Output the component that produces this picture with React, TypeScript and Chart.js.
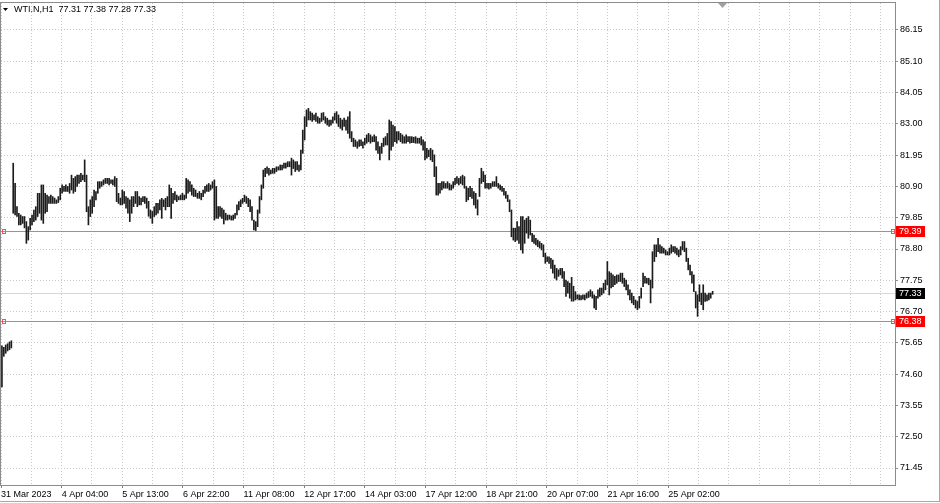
import React, { useEffect, useRef } from "react";
import { Chart, registerables } from "chart.js";

Chart.register(...registerables);

// ---- data ----
const symbolTitle = "WTI.N,H1";
const lastOHLC = [77.31, 77.38, 77.28, 77.33];
const currentPrice = 77.33;
const levelLines = [79.39, 76.38];
const priceTicks = [71.45, 72.5, 73.55, 74.6, 75.65, 76.7, 77.75, 78.8, 79.85, 80.9, 81.95, 83.0, 84.05, 85.1, 86.15];
const timeLabels = [
  "31 Mar 2023", "4 Apr 04:00", "5 Apr 13:00", "6 Apr 22:00", "11 Apr 08:00", "12 Apr 17:00",
  "14 Apr 03:00", "17 Apr 12:00", "18 Apr 21:00", "20 Apr 07:00", "21 Apr 16:00", "25 Apr 02:00",
];

// hourly bar highs
const highs = [
  75.55, 75.50, 75.58, 75.62, 75.68, 75.72,
  81.68, 81.00, 80.22, 80.00, 79.94, 79.89, 79.89, 79.72, 79.55, 79.83,
  79.94, 80.11, 80.22, 80.67, 80.67, 80.95, 80.95, 80.67, 80.61, 80.56,
  80.61, 80.56, 80.51, 80.45, 80.56, 80.84, 80.95, 80.90, 80.95, 80.90,
  81.00, 81.28, 81.17, 81.23, 81.28, 81.28, 81.34, 81.28, 81.79, 81.28,
  80.22, 80.45, 80.56, 80.78, 80.73, 81.06, 81.06, 81.06, 81.12, 81.17,
  81.17, 81.17, 81.12, 81.12, 81.23, 81.17, 80.67, 80.51, 80.78, 80.73,
  80.56, 80.51, 80.45, 80.56, 80.56, 80.73, 80.73, 80.56, 80.51, 80.56,
  80.56, 80.51, 80.40, 80.11, 80.06, 80.22, 80.33, 80.33, 80.45, 80.50,
  80.45, 80.50, 80.56, 80.95, 80.84, 80.67, 80.73, 80.61, 80.56, 80.61,
  80.67, 80.61, 81.17, 81.12, 81.06, 80.95, 80.84, 80.78, 80.67, 80.73,
  80.67, 80.78, 80.90, 80.95, 81.00, 80.95, 81.06, 81.12, 80.90, 80.22,
  80.22, 80.17, 80.11, 80.00, 79.94, 79.94, 79.91, 79.94, 80.00, 80.28,
  80.39, 80.45, 80.50, 80.61, 80.56, 80.50, 80.45, 80.22, 79.77, 79.72,
  80.11, 80.56, 80.95, 81.45, 81.51, 81.56, 81.51, 81.45, 81.51, 81.51,
  81.56, 81.56, 81.62, 81.62, 81.68, 81.68, 81.73, 81.73, 81.85, 81.79,
  81.73, 81.73, 81.62, 82.12, 82.79, 83.24, 83.47, 83.52, 83.41, 83.36,
  83.30, 83.36, 83.24, 83.19, 83.36, 83.38, 83.24, 83.19, 83.13, 83.13,
  83.24, 83.36, 83.41, 83.30, 83.19, 83.13, 83.19, 83.13, 83.24, 83.41,
  82.74, 82.52, 82.46, 82.40, 82.46, 82.46, 82.40, 82.52, 82.63, 82.68,
  82.63, 82.57, 82.63, 82.57, 82.40, 82.24, 82.35, 82.52, 82.57, 82.68,
  83.13, 83.08, 82.96, 82.91, 82.74, 82.74, 82.68, 82.63, 82.57, 82.63,
  82.57, 82.57, 82.57, 82.55, 82.57, 82.52, 82.52, 82.57, 82.46, 82.40,
  82.18, 82.12, 82.18, 82.12, 81.96, 81.56, 81.00, 81.00, 81.06, 81.06,
  81.00, 81.06, 81.00, 80.95, 81.06, 81.17, 81.23, 81.17, 81.23, 81.28,
  81.23, 80.90, 80.84, 80.90, 80.84, 80.73, 80.67, 80.45, 81.17, 81.51,
  81.40, 81.28, 81.00, 81.00, 81.00, 81.06, 81.06, 81.23, 81.00, 80.95,
  80.90, 80.84, 80.73, 80.61, 80.45, 80.11, 79.50, 79.50, 79.72, 79.55,
  79.89, 79.89, 79.77, 79.83, 79.89, 79.77, 79.33, 79.27, 79.16, 79.10,
  79.05, 78.99, 78.94, 78.66, 78.54, 78.54, 78.49, 78.43, 78.26, 78.15,
  78.10, 78.15, 78.15, 78.04, 77.76, 77.71, 77.65, 77.85, 77.55, 77.37,
  77.26, 77.26, 77.24, 77.26, 77.26, 77.32, 77.37, 77.43, 77.37, 77.26,
  77.21, 77.43, 77.49, 77.49, 77.65, 77.76, 78.38, 78.04, 77.99, 77.93,
  77.88, 77.93, 77.93, 77.99, 77.99, 77.82, 77.76, 77.60, 77.43, 77.32,
  77.21, 77.09, 77.04, 77.21, 77.49, 77.99, 77.88, 77.82, 77.82, 77.76,
  78.71, 78.94, 78.94, 79.16, 78.94, 78.88, 78.83, 78.77, 78.71, 78.83,
  78.94, 78.88, 78.88, 78.83, 78.77, 78.88, 79.05, 79.05, 78.83, 78.49,
  78.26, 78.04, 77.93, 77.37, 77.26, 77.60, 77.32, 77.60, 77.32, 77.26,
  77.32, 77.32, 77.38,
];

// hourly bar lows
const lows = [
  74.17, 75.20, 75.30, 75.38, 75.42, 75.48,
  80.00, 79.94, 79.89, 79.61, 79.61, 79.66, 79.51, 78.99, 79.10, 79.44,
  79.61, 79.72, 79.77, 79.89, 80.00, 79.77, 79.66, 80.00, 80.05, 80.33,
  80.33, 80.33, 80.33, 80.33, 80.36, 80.45, 80.67, 80.73, 80.73, 80.73,
  80.67, 80.78, 80.67, 80.73, 80.90, 81.00, 81.06, 81.12, 81.06, 80.05,
  79.61, 79.89, 80.00, 80.22, 80.45, 80.67, 80.84, 80.90, 80.95, 81.00,
  81.00, 80.95, 81.00, 80.95, 80.90, 80.39, 80.33, 80.28, 80.28, 80.33,
  80.17, 80.00, 79.72, 80.00, 80.22, 80.33, 80.22, 80.28, 80.28, 80.39,
  80.33, 80.17, 79.90, 79.83, 79.66, 79.89, 79.94, 80.00, 80.11, 79.83,
  80.22, 80.11, 80.22, 80.22, 79.83, 80.33, 80.45, 80.39, 80.45, 80.45,
  80.45, 80.45, 80.50, 80.67, 80.73, 80.61, 80.56, 80.56, 80.50, 80.50,
  80.45, 80.56, 80.67, 80.73, 80.73, 80.78, 80.84, 79.77, 79.83, 79.83,
  79.89, 79.83, 79.64, 79.77, 79.77, 79.80, 79.77, 79.77, 79.83, 79.94,
  80.11, 80.22, 80.33, 80.39, 80.33, 80.22, 80.05, 79.77, 79.44, 79.42,
  79.55, 80.00, 80.45, 80.84, 81.23, 81.34, 81.28, 81.32, 81.34, 81.34,
  81.40, 81.45, 81.45, 81.45, 81.51, 81.51, 81.56, 81.56, 81.28, 81.50,
  81.40, 81.45, 81.40, 81.45, 82.01, 82.46, 82.91, 83.13, 83.13, 83.08,
  83.13, 83.08, 83.02, 83.02, 83.08, 83.13, 83.02, 82.96, 82.91, 82.96,
  83.02, 83.13, 83.02, 82.91, 82.85, 82.79, 82.91, 82.79, 82.68, 82.52,
  82.40, 82.24, 82.24, 82.18, 82.24, 82.27, 82.18, 82.29, 82.35, 82.40,
  82.35, 82.40, 82.40, 82.12, 82.01, 81.79, 82.01, 82.24, 82.29, 82.29,
  81.79, 82.12, 82.24, 82.40, 82.35, 82.46, 82.40, 82.35, 82.35, 82.35,
  82.40, 82.35, 82.37, 82.37, 82.35, 82.35, 82.35, 82.29, 82.12, 81.79,
  81.85, 81.90, 81.79, 81.73, 81.23, 80.61, 80.61, 80.67, 80.78, 80.84,
  80.84, 80.84, 80.78, 80.78, 80.84, 80.95, 81.00, 80.95, 81.00, 80.95,
  80.84, 80.39, 80.45, 80.56, 80.50, 80.28, 80.17, 79.94, 80.56, 81.00,
  81.06, 80.84, 80.84, 80.81, 80.84, 80.90, 80.90, 80.90, 80.84, 80.78,
  80.73, 80.61, 80.50, 80.39, 80.05, 79.21, 79.10, 79.05, 79.10, 78.99,
  78.77, 78.66, 78.99, 79.33, 79.16, 79.27, 79.05, 78.99, 78.94, 78.88,
  78.83, 78.77, 78.54, 78.32, 78.38, 78.32, 78.15, 77.99, 77.82, 77.76,
  77.88, 77.93, 77.82, 77.54, 77.21, 77.32, 77.15, 77.05, 77.05, 77.09,
  77.12, 77.09, 77.09, 77.12, 77.09, 77.15, 77.17, 77.21, 77.15, 76.82,
  76.76, 77.15, 77.21, 77.26, 77.32, 77.43, 77.60, 77.26, 77.49, 77.54,
  77.60, 77.65, 77.71, 77.71, 77.65, 77.54, 77.43, 77.26, 77.09, 76.99,
  76.93, 76.82, 76.76, 76.82, 77.15, 77.54, 77.65, 77.65, 77.60, 76.99,
  77.49, 78.38, 78.54, 78.71, 78.66, 78.66, 78.66, 78.60, 78.60, 78.60,
  78.66, 78.71, 78.66, 78.60, 78.54, 78.60, 78.77, 78.71, 78.38, 78.10,
  77.93, 77.65, 77.37, 76.82, 76.54, 77.04, 76.93, 76.76, 77.04, 77.06,
  77.09, 77.15, 77.28,
];

// ---- layout constants ----
const FONT = "'Liberation Sans', Arial, sans-serif";
const X_MIN = -0.5;
const X_MAX = 475;
const Y_MIN = 70.88;
const Y_MAX = 87.056;
const BARS_PER_GRID = 16.13;
const GRID_COUNT = 30;

export default function App() {
  const ref = useRef<HTMLCanvasElement>(null);

  useEffect(() => {
    document.body.style.margin = "0";
    const canvas = ref.current;
    if (!canvas) return;
    const n = Math.min(highs.length, lows.length);
    const bars: { x: number; y: [number, number] }[] = [];
    for (let i = 0; i < n; i++) bars.push({ x: i, y: [lows[i], highs[i]] });

    const deco = {
      id: "deco",
      beforeDraw(chart: any) {
        const ctx = chart.ctx;
        ctx.save();
        ctx.fillStyle = "#ffffff";
        ctx.fillRect(0, 0, chart.width, chart.height);
        ctx.restore();
      },
      beforeDatasetsDraw(chart: any) {
        const { ctx, chartArea: a, scales } = chart;
        const y = scales.y;
        ctx.save();
        const w = a.right - a.left;
        // current price line
        const yc = Math.round(y.getPixelForValue(currentPrice));
        ctx.fillStyle = "#d8d8d8";
        ctx.fillRect(a.left, yc, w, 1);
        // horizontal level lines with end markers
        for (const v of levelLines) {
          const yy = Math.round(y.getPixelForValue(v));
          ctx.fillStyle = "#f26d6d";
          ctx.fillRect(a.left, yy, w, 1);
          ctx.fillStyle = "#ee5555";
          ctx.fillRect(a.left + 1, yy - 2, 4, 1);
          ctx.fillRect(a.left + 1, yy + 2, 4, 1);
          ctx.fillRect(a.left + 1, yy - 2, 1, 5);
          ctx.fillRect(a.left + 4, yy - 2, 1, 5);
          ctx.fillRect(a.right - 4, yy - 2, 4, 1);
          ctx.fillRect(a.right - 4, yy + 2, 4, 1);
          ctx.fillRect(a.right - 4, yy - 2, 1, 5);
          ctx.fillRect(a.right - 1, yy - 2, 1, 5);
        }
        ctx.restore();
      },
      afterDraw(chart: any) {
        const { ctx, chartArea: a, scales } = chart;
        const y = scales.y;
        ctx.save();
        // plot frame
        ctx.fillStyle = "#8c8c8c";
        ctx.fillRect(a.left - 1, a.top - 1, a.right - a.left + 2, 1);
        ctx.fillRect(a.left - 1, a.bottom, a.right - a.left + 2, 1);
        ctx.fillRect(a.left - 1, a.top - 1, 1, a.bottom - a.top + 2);
        ctx.fillRect(a.right, a.top - 1, 1, a.bottom - a.top + 2);
        // outer window lines
        ctx.fillStyle = "#a8a8a8";
        ctx.fillRect(939, 0, 1, 502);
        ctx.fillRect(0, 501, 940, 1);
        // chart shift marker
        ctx.fillStyle = "#a0a0a0";
        ctx.beginPath();
        ctx.moveTo(718, a.top);
        ctx.lineTo(727, a.top);
        ctx.lineTo(722.5, a.top + 5);
        ctx.closePath();
        ctx.fill();
        // price boxes on the axis
        ctx.font = `9px ${FONT}`;
        ctx.textBaseline = "middle";
        ctx.textAlign = "left";
        const box = (v: number, bg: string) => {
          const yy = Math.round(y.getPixelForValue(v));
          ctx.fillStyle = bg;
          ctx.fillRect(896, yy - 5, 29, 11);
          ctx.fillStyle = "#ffffff";
          ctx.fillText(v.toFixed(2), 899, yy + 1);
        };
        for (const v of levelLines) box(v, "#ff0000");
        box(currentPrice, "#000000");
        // title
        ctx.fillStyle = "#000000";
        ctx.beginPath();
        ctx.moveTo(3, 8);
        ctx.lineTo(8, 8);
        ctx.lineTo(5.5, 11);
        ctx.closePath();
        ctx.fill();
        ctx.font = `9px ${FONT}`;
        ctx.fillText(`${symbolTitle}  ${lastOHLC.map((v) => v.toFixed(2)).join(" ")}`, 14, 10);
        ctx.restore();
      },
    };

    const chart = new Chart(canvas, {
      type: "bar",
      data: {
        datasets: [
          {
            data: bars as any,
            backgroundColor: "#1c1c1c",
            borderWidth: 0,
            barThickness: 1,
          } as any,
        ],
      },
      options: {
        animation: false,
        responsive: false,
        devicePixelRatio: 1,
        layout: { padding: { left: 1, top: 3, right: 0, bottom: 0 } },
        plugins: { legend: { display: false }, tooltip: { enabled: false } },
        scales: {
          x: {
            type: "linear",
            position: "bottom",
            min: X_MIN,
            max: X_MAX,
            offset: false,
            afterBuildTicks: (s: any) => {
              const t = [];
              for (let k = 0; k < GRID_COUNT; k++) t.push({ value: k * BARS_PER_GRID + X_MIN });
              s.ticks = t;
            },
            afterFit: (s: any) => {
              s.height = 18;
              s.paddingLeft = 0;
              s.paddingRight = 0;
            },
            grid: {
              color: "#c8c8c8",
              tickLength: 3,
              offset: false,
              tickColor: (c: any) =>
                c.index % 2 === 0 && c.index / 2 < timeLabels.length ? "#808080" : "rgba(0,0,0,0)",
            },
            border: { display: false, dash: [1, 2] },
            ticks: {
              autoSkip: false,
              maxRotation: 0,
              minRotation: 0,
              align: "start",
              padding: 1,
              color: "#000000",
              font: { family: FONT, size: 9 },
              callback: (_v: any, i: number) => (i % 2 === 0 ? timeLabels[i / 2] ?? "" : ""),
            },
          } as any,
          y: {
            type: "linear",
            position: "right",
            min: Y_MIN,
            max: Y_MAX,
            afterBuildTicks: (s: any) => {
              s.ticks = priceTicks.map((v) => ({ value: v }));
            },
            afterFit: (s: any) => {
              s.width = 45;
              s.paddingTop = 0;
              s.paddingBottom = 0;
            },
            grid: { color: "#c8c8c8", tickLength: 3, tickColor: "#909090" },
            border: { display: false, dash: [1, 2] },
            ticks: {
              padding: 2,
              color: "#000000",
              font: { family: FONT, size: 9 },
              callback: (v: any) => Number(v).toFixed(2),
            },
          } as any,
        },
      },
      plugins: [deco],
    });
    return () => chart.destroy();
  }, []);

  return (
    <div style={{ width: 940, height: 503, position: "relative", background: "#fff" }}>
      <canvas ref={ref} width={940} height={503} style={{ display: "block", width: 940, height: 503 }} />
    </div>
  );
}
